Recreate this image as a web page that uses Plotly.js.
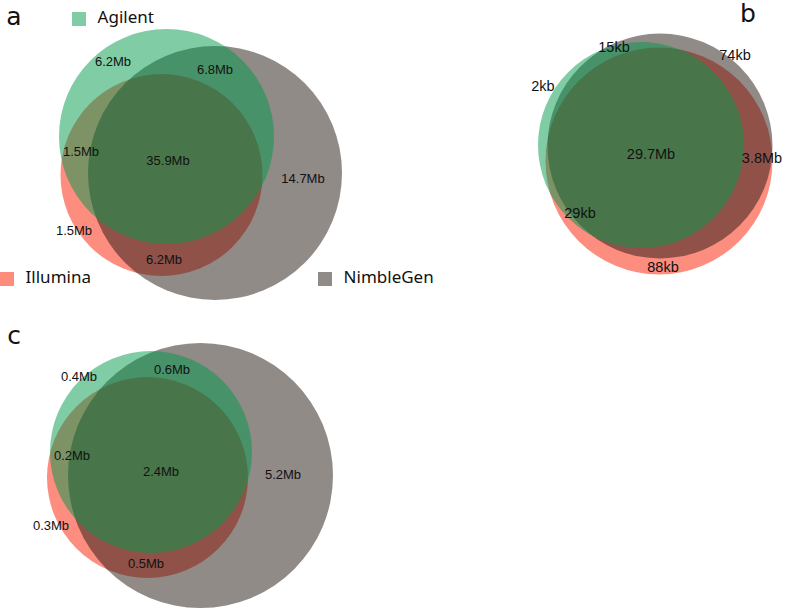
<!DOCTYPE html>
<html>
<head>
<meta charset="utf-8">
<script src="https://cdn.plot.ly/plotly-3.0.1.min.js"></script>
<style>html,body{margin:0;padding:0;background:#fff;}#chart{width:787px;height:609px;}</style>
</head>
<body>
<div id="chart"></div>
<script>
// ---- data ----
const setNames = ["Agilent", "Illumina", "NimbleGen"];
const panelNames = ["a", "b", "c"];
const panelALabels = ["6.2Mb", "6.8Mb", "1.5Mb", "35.9Mb", "14.7Mb", "1.5Mb", "6.2Mb"];
const panelBLabels = ["15kb", "74kb", "2kb", "29.7Mb", "3.8Mb", "29kb", "88kb"];
const panelCLabels = ["0.4Mb", "0.6Mb", "0.2Mb", "2.4Mb", "5.2Mb", "0.3Mb", "0.5Mb"];

// ---- layout / geometry (pixel space) ----
const setFill = {
  Agilent: "rgba(0,153,76,0.5)",
  Illumina: "rgba(250,28,0,0.5)",
  NimbleGen: "rgba(35,23,17,0.5)"
};
const legendColor = {
  Agilent: "rgb(128,204,166)",
  Illumina: "rgb(253,141,122)",
  NimbleGen: "rgb(145,139,136)"
};
// circle geometry per panel: [cx, cy, r] (draw order Illumina, NimbleGen, Agilent)
const drawOrder = ["Illumina", "NimbleGen", "Agilent"];
const circlesA = {Illumina: [161.5, 175, 101], NimbleGen: [215, 173, 127], Agilent: [166.5, 136.5, 107.5]};
const circlesB = {Illumina: [659, 161, 113.5], NimbleGen: [660, 146, 112.5], Agilent: [641, 145, 103]};
const circlesC = {Illumina: [147.5, 477.5, 100.5], NimbleGen: [200.5, 475.5, 132.5], Agilent: [151, 452, 101]};

const posA = {x: [113, 215, 81, 168, 303, 74, 164], y: [63, 71, 153, 162, 180, 232, 261]};
const posB = {x: [614, 735, 543, 651, 762, 580, 663], y: [48, 56, 87, 155, 159, 214, 268]};
const posC = {x: [79, 172, 72, 161, 283, 51, 146], y: [378, 371, 457, 473, 476, 527, 565]};

const panelPos = {x: [14, 748, 14], y: [19, 16, 338]};
const legendPos = {x: [79, 7, 325], y: [19, 279, 279]};

const shapes = [];
[circlesA, circlesB, circlesC].forEach(c => {
  drawOrder.forEach(name => {
    const [cx, cy, r] = c[name];
    shapes.push({
      type: "circle", xref: "x", yref: "y", layer: "below",
      x0: cx - r, x1: cx + r, y0: cy - r, y1: cy + r,
      fillcolor: setFill[name], line: {width: 0}
    });
  });
});

const numFont = {family: "Liberation Sans, Arial, sans-serif", color: "#111"};
function labelTrace(labels, pos, size) {
  return {
    type: "scatter", mode: "text", x: pos.x, y: pos.y, text: labels,
    textposition: "middle center",
    textfont: Object.assign({size: size}, numFont),
    hoverinfo: "skip", showlegend: false
  };
}

const traces = [
  labelTrace(panelALabels, posA, 13),
  labelTrace(panelBLabels, posB, 14.5),
  labelTrace(panelCLabels, posC, 13),
  {
    type: "scatter", mode: "text", x: panelPos.x, y: panelPos.y, text: panelNames,
    textposition: "middle center",
    textfont: {family: "DejaVu Sans, sans-serif", size: 25, color: "#111"},
    hoverinfo: "skip", showlegend: false
  },
  {
    type: "scatter", mode: "markers+text", x: legendPos.x, y: legendPos.y,
    text: setNames.map(s => "  " + s),
    textposition: "middle right",
    textfont: {family: "Noto Sans, sans-serif", size: 17, color: "#111"},
    marker: {symbol: "square", size: 14, color: setNames.map(s => legendColor[s]), line: {width: 0}},
    hoverinfo: "skip", showlegend: false
  }
];

const axisBase = {visible: false, showgrid: false, zeroline: false, fixedrange: true};
const layout = {
  width: 787, height: 609,
  margin: {l: 0, r: 0, t: 0, b: 0, pad: 0},
  paper_bgcolor: "#fff", plot_bgcolor: "#fff",
  xaxis: Object.assign({range: [0, 787]}, axisBase),
  yaxis: Object.assign({range: [609, 0]}, axisBase),
  shapes: shapes,
  showlegend: false
};

Plotly.newPlot("chart", traces, layout, {staticPlot: true, displayModeBar: false});
</script>
</body>
</html>
